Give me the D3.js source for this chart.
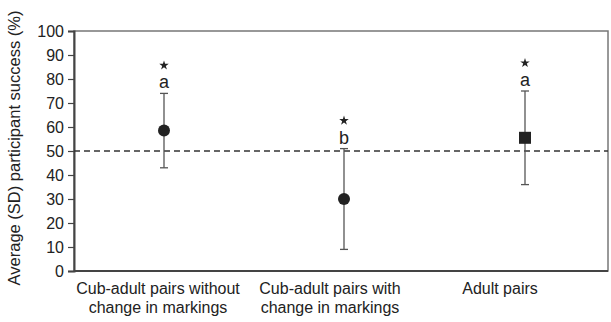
<!DOCTYPE html>
<html>
<head>
<meta charset="UTF-8">
<script src="https://cdn.jsdelivr.net/npm/d3@7/dist/d3.min.js"></script>
<style>
  body { margin: 0; background: #fff; }
  text { font-family: "Liberation Sans", Arial, sans-serif; fill: #222; }
</style>
</head>
<body>
<script>
    // data
    var groups = [["Cub-adult pairs without", "change in markings"],
                  ["Cub-adult pairs with", "change in markings"],
                  ["Adult pairs"]];
    var means = [58.5, 30, 55.5];
    var upper = [74, 51, 75];
    var lower = [43, 9, 36];
    var letters = ["a", "b", "a"];
    var shapes = ["circle", "circle", "square"];
    var yTicks = [0, 10, 20, 30, 40, 50, 60, 70, 80, 90, 100];
    var chance = 50;

    var width = 611, height = 322;
    var mLeft = 74, mRight = 608, mTop = 31, mBottom = 271;

    var svg = d3.select("body").append("svg")
        .attr("width", width).attr("height", height);

    var y = d3.scaleLinear().domain([0, 100]).range([mBottom, mTop]);
    var x = d3.scaleLinear().domain([0, 2]).range([164, 525]);
    // x positions of the markers differ a little from the even spacing
    var pointX = [x(0), x(0) + 180, x(2)];
    var labelX = [158, 330, 500];

    // frame
    svg.append("rect")
        .attr("x", mLeft).attr("y", mTop)
        .attr("width", mRight - mLeft).attr("height", mBottom - mTop)
        .attr("fill", "none").attr("stroke", "#777").attr("stroke-width", 1.5);

    // y axis
    var yAxis = svg.append("g")
        .attr("transform", "translate(" + mLeft + ",0)")
        .call(d3.axisLeft(y).tickValues(yTicks).tickSize(6).tickPadding(4));
    yAxis.select(".domain").attr("stroke", "#444").attr("stroke-width", 2);
    yAxis.selectAll(".tick line").attr("stroke", "#444").attr("stroke-width", 1.2);
    yAxis.selectAll(".tick text")
        .style("font-family", "'Liberation Sans', Arial, sans-serif")
        .style("font-size", "16px").attr("fill", "#222");

    svg.append("line")
        .attr("x1", mLeft).attr("x2", mRight)
        .attr("y1", mBottom).attr("y2", mBottom)
        .attr("stroke", "#444").attr("stroke-width", 2);

    svg.append("text")
        .attr("transform", "translate(20,148) rotate(-90)")
        .attr("text-anchor", "middle")
        .style("font-size", "16.5px")
        .text("Average (SD) participant success (%)");

    // chance line
    svg.append("line")
        .attr("x1", mLeft).attr("x2", mRight)
        .attr("y1", y(chance)).attr("y2", y(chance))
        .attr("stroke", "#333").attr("stroke-width", 1.5)
        .attr("stroke-dasharray", "6,4");

    // error bars
    var g = svg.append("g");
    means.forEach(function(m, i) {
        var cx = pointX[i];
        g.append("line")
            .attr("x1", cx).attr("x2", cx)
            .attr("y1", y(upper[i])).attr("y2", y(lower[i]))
            .attr("stroke", "#555").attr("stroke-width", 1.3);
        [upper[i], lower[i]].forEach(function(v) {
            g.append("line")
                .attr("x1", cx - 4).attr("x2", cx + 4)
                .attr("y1", y(v)).attr("y2", y(v))
                .attr("stroke", "#555").attr("stroke-width", 1.3);
        });
        if (shapes[i] == "circle") {
            g.append("circle").attr("cx", cx).attr("cy", y(m)).attr("r", 6).attr("fill", "#222");
        } else {
            g.append("rect").attr("x", cx - 6).attr("y", y(m) - 6)
                .attr("width", 12).attr("height", 12).attr("fill", "#222");
        }
        g.append("text")
            .attr("x", cx).attr("y", y(upper[i]) - 5)
            .attr("text-anchor", "middle")
            .style("font-size", "18px")
            .text(letters[i]);
        g.append("path")
            .attr("d", d3.symbol().type(d3.symbolStar).size(28))
            .attr("transform", "translate(" + cx + "," + (y(upper[i]) - 28) + ")")
            .attr("fill", "#222");
    });

    // category labels
    groups.forEach(function(lines, i) {
        var t = svg.append("text")
            .attr("text-anchor", "middle")
            .style("font-size", "16px");
        lines.forEach(function(s, k) {
            t.append("tspan").attr("x", labelX[i]).attr("y", 294 + k * 19).text(s);
        });
    });
</script>
</body>
</html>
